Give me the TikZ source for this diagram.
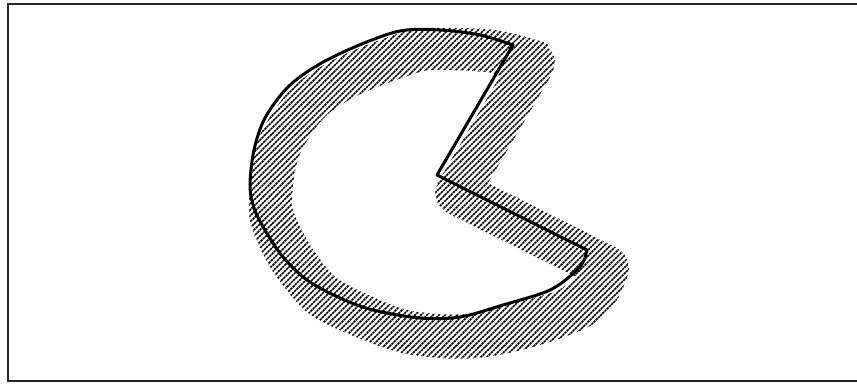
\documentclass[tikz,border=0pt]{standalone}
\begin{document}
\begin{tikzpicture}[x=1pt,y=-1pt,
  frameline/.style={line width=2.4pt,draw=black!85},
  hatchline/.style={line width=1.7pt,black,dash pattern=on 2.4pt off 0.7pt},
  outlinepath/.style={line width=3pt,black,line join=round}]
\useasboundingbox (0,0) rectangle (857,383);
\fill[white] (0,0) rectangle (857,383);
% frame
\draw[frameline] (860,4) -- (8,4) -- (8,381) -- (860,381);
% hatched band
\begin{scope}
\clip plot[smooth,tension=0.55] coordinates {(552,74) (555,60) (549,48) (543,42) (495,30) (432,28) (403,32) (339,57) (294,86) (264,127) (252,162) (249,203) (251,225) (262,252) (279,280) (314,317) (388,349) (440,358) (486,357) (540,345) (590,326) (614,304) (625,283) (629,267) (624,254) (617,248)} -- (488,183) -- cycle;
\foreach \k in {0,...,125} {
  \draw[hatchline] ({262+6*\k-375},375) -- ++(370,-370);
}
\end{scope}
% clear interior
\fill[white] plot[smooth,tension=0.55] coordinates {(500,76) (485,72) (434,70) (411,75) (361,94) (326,116) (303,148) (295,172) (292,201) (294,213) (303,232) (315,252) (340,280) (398,307) (440,314) (476,313) (514,303) (556,291) (576,277)} -- plot[smooth] coordinates {(447,213) (438,204) (435,193) (438,182)} -- cycle;
% outline
\draw[outlinepath] plot[smooth,tension=0.55] coordinates {(513,45) (480,35) (440,30) (400,31) (357,46) (318,65) (288,87) (265,118) (254,150) (250,185) (254,208) (265,230) (283,257) (307,280) (340,298) (373,310) (420,318) (460,317) (503,305) (550,290) (577,270) (585,258)} -- (587,250) -- (437,175) -- cycle;
\end{tikzpicture}
\end{document}
